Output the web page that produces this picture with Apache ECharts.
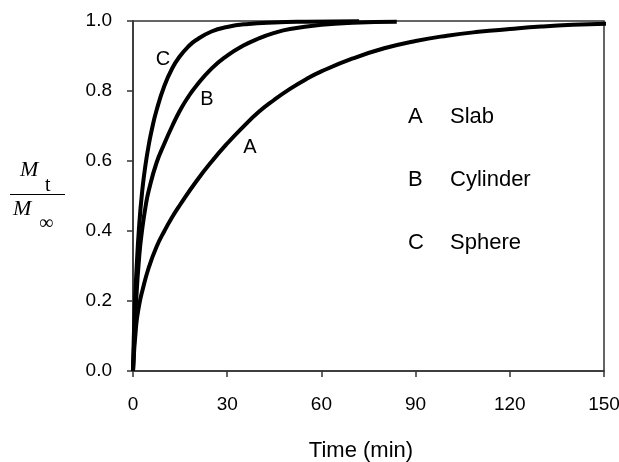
<!DOCTYPE html>
<html>
<head>
<meta charset="utf-8">
<script src="https://cdn.jsdelivr.net/npm/echarts@6/dist/echarts.min.js"></script>
<style>
  html, body { margin: 0; padding: 0; background: #fff; }
  #main { width: 619px; height: 462px; }
</style>
</head>
<body>
<div id="main"></div>
<script>
// Mt/Minf vs time (min)
var slab = [[0,0],[1,0.13],[2,0.19],[3,0.23],[5,0.295],[7.5,0.355],[10,0.4],[12.5,0.44],[15,0.475],[20,0.54],[25,0.598],[30,0.65],[35,0.697],[40,0.74],[45,0.775],[50,0.806],[55,0.833],[60,0.856],[70,0.893],[80,0.922],[90,0.943],[100,0.958],[110,0.969],[120,0.977],[130,0.984],[140,0.989],[153,0.993]];
var cylinder = [[0,0],[1,0.2],[2,0.33],[3,0.41],[4,0.47],[5,0.515],[7.5,0.595],[10,0.65],[12.5,0.7],[15,0.745],[17.5,0.782],[20,0.813],[25,0.864],[30,0.901],[35,0.929],[40,0.95],[45,0.966],[50,0.977],[60,0.989],[70,0.995],[84,0.998]];
var sphere = [[0,0],[0.5,0.17],[1,0.27],[2,0.42],[3,0.52],[4,0.59],[5,0.645],[6,0.69],[7.5,0.745],[10,0.815],[12.5,0.865],[15,0.9],[17.5,0.926],[20,0.945],[25,0.97],[30,0.983],[36,0.991],[45,0.996],[55,0.998],[72,0.999]];

var xTicks = [0, 30, 60, 90, 120, 150];
var yTicks = ['0.0', '0.2', '0.4', '0.6', '0.8', '1.0'];
var legendKeys = ['A', 'B', 'C'];
var legendNames = ['Slab', 'Cylinder', 'Sphere'];

var sans = '"Liberation Sans", Arial, sans-serif';
var serif = '"Liberation Serif", "Times New Roman", serif';

var myChart = echarts.init(document.getElementById('main'));

function curve(name, data) {
    return {
        name: name,
        type: 'line',
        data: data,
        smooth: 0.5,
        showSymbol: false,
        clip: false,
        lineStyle: { color: '#000', width: 4 },
        z: 3
    };
}

// legend text on the right side of the plot
var legendText = [];
legendKeys.forEach(function (k, i) {
    var y = 117 + i * 63;
    legendText.push({ type: 'text', x: 408, y: y, style: { text: k, font: '22px ' + sans, fill: '#000', verticalAlign: 'middle' } });
    legendText.push({ type: 'text', x: 450, y: y, style: { text: legendNames[i], font: '22px ' + sans, fill: '#000', verticalAlign: 'middle' } });
});

myChart.setOption({
    animation: false,
    backgroundColor: '#fff',
    grid: {
        left: 133, right: 15, top: 21, bottom: 91,
        outerBoundsMode: 'none',
        show: true, borderColor: '#333', borderWidth: 1.5
    },
    xAxis: {
        type: 'value',
        min: 0, max: 150, interval: 30,
        name: 'Time (min)',
        nameLocation: 'middle',
        nameGap: 69,
        nameTextStyle: { fontFamily: sans, fontSize: 22, color: '#000', padding: [0, 15, 0, 0] },
        axisLine: { lineStyle: { color: '#333', width: 1.5 } },
        axisTick: { inside: false, length: 6, lineStyle: { color: '#333', width: 1.5 } },
        axisLabel: {
            margin: 24, fontFamily: sans, fontSize: 19, color: '#000',
            formatter: function (v) { return xTicks.indexOf(v) >= 0 ? String(v) : ''; }
        },
        splitLine: { show: false }
    },
    yAxis: {
        type: 'value',
        min: 0, max: 1, interval: 0.2,
        axisLine: { show: true, lineStyle: { color: '#333', width: 1.5 } },
        axisTick: { show: true, inside: false, length: 6, lineStyle: { color: '#333', width: 1.5 } },
        axisLabel: {
            margin: 21, fontFamily: sans, fontSize: 19, color: '#000',
            formatter: function (v) { return yTicks[Math.round(v * 5)]; }
        },
        splitLine: { show: false }
    },
    graphic: [
        // y axis label: Mt / M∞
        { type: 'text', left: 20, top: 159, style: { text: 'M', font: 'italic 22px ' + serif, fill: '#000' } },
        { type: 'text', left: 45, top: 176, style: { text: 't', font: '20px ' + serif, fill: '#000' } },
        { type: 'line', shape: { x1: 10, y1: 194.5, x2: 65, y2: 194.5 }, style: { stroke: '#000', lineWidth: 1 } },
        { type: 'text', left: 13, top: 198, style: { text: 'M', font: 'italic 22px ' + serif, fill: '#000' } },
        { type: 'text', left: 39, top: 214, style: { text: '\u221e', font: '20px ' + serif, fill: '#000' } },
        // curve labels
        { type: 'text', x: 163, y: 59, style: { text: 'C', font: '20px ' + sans, fill: '#000', align: 'center', verticalAlign: 'middle' } },
        { type: 'text', x: 207, y: 99, style: { text: 'B', font: '20px ' + sans, fill: '#000', align: 'center', verticalAlign: 'middle' } },
        { type: 'text', x: 250, y: 147, style: { text: 'A', font: '20px ' + sans, fill: '#000', align: 'center', verticalAlign: 'middle' } }
    ].concat(legendText),
    series: [
        curve('A', slab),
        curve('B', cylinder),
        curve('C', sphere)
    ]
});
</script>
</body>
</html>
